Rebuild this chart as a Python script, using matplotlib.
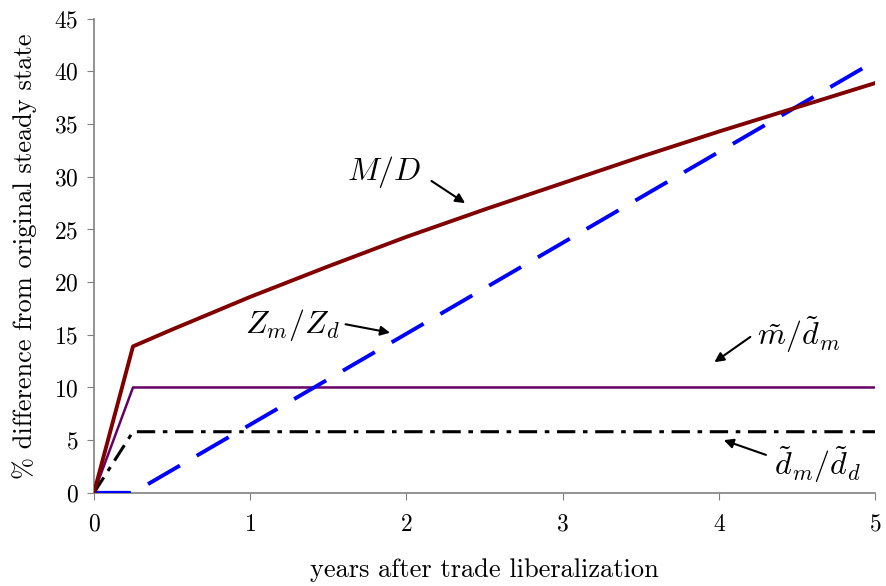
import matplotlib
matplotlib.use("Agg")
import matplotlib.pyplot as plt
import numpy as np

plt.rcParams.update({
    "font.family": "serif",
    "font.serif": ["cmr10"],
    "mathtext.fontset": "cm",
    "axes.formatter.use_mathtext": True,
    "axes.unicode_minus": False,
    "font.size": 14,
})

# -------------------------
# Data
# -------------------------
years_md = [0, 0.25, 0.5, 1, 1.5, 2, 2.5, 3, 3.5, 4, 4.5, 5]
md = [0, 13.9, 15.5, 18.6, 21.5, 24.3, 26.9, 29.4, 31.9, 34.3, 36.6, 38.9]

years_z = [0, 0.25, 5]
z = [0, 0, 41.0]

years_flat = [0, 0.25, 5]
m_over_dm = [0, 10.0, 10.0]
dm_over_dd = [0, 5.8, 5.8]

fig = plt.figure(figsize=(8.86, 5.86), dpi=100)
ax = fig.add_axes([0.106, 0.159, 0.882, 0.809])

ax.plot(years_md, md, color="#800000", lw=2.8, zorder=4)
ax.plot(years_flat, m_over_dm, color="#660066", lw=1.8, zorder=3)
ax.plot(years_z, z, color="#0000ff", lw=2.8, dashes=(9.5, 5), zorder=3)
ax.plot(years_flat, dm_over_dd, color="black", lw=2.2, dashes=(6, 2.5, 1.5, 2.5), zorder=3)

arrow = dict(arrowstyle="-|>", color="black", lw=1.5, mutation_scale=14,
             shrinkA=0, shrinkB=0)
ax.annotate("", xy=(2.375, 27.5), xytext=(2.16, 29.6), arrowprops=arrow)
ax.text(1.86, 30.5, r"$M/D$", fontsize=23, ha="center", va="center")

ax.annotate("", xy=(1.895, 15.2), xytext=(1.61, 16.0), arrowprops=arrow)
ax.text(1.27, 15.9, r"$Z_m/Z_d$", fontsize=23, ha="center", va="center")

ax.annotate("", xy=(3.97, 12.4), xytext=(4.2, 14.8), arrowprops=arrow)
ax.text(4.51, 15.0, r"$\tilde{m}/\tilde{d}_m$", fontsize=23, ha="center", va="center")

ax.annotate("", xy=(4.03, 5.0), xytext=(4.30, 3.6), arrowprops=arrow)
ax.text(4.63, 2.7, r"$\tilde{d}_m/\tilde{d}_d$", fontsize=23, ha="center", va="center")

ax.set_xlim(0, 5)
ax.set_ylim(0, 45)
ax.set_xticks(range(0, 6))
ax.set_yticks(range(0, 46, 5))
ax.set_xlabel("years after trade liberalization", fontsize=19, labelpad=16)
ax.set_ylabel("% difference from original steady state", fontsize=19, labelpad=12)

for side in ["top", "right"]:
    ax.spines[side].set_visible(False)
for side in ["left", "bottom"]:
    ax.spines[side].set_color("#808080")
    ax.spines[side].set_linewidth(1.2)
ax.tick_params(direction="out", length=5, color="#808080", labelsize=17, pad=6)
ax.tick_params(axis="x", pad=10)

fig.savefig("out.png", dpi=100)
